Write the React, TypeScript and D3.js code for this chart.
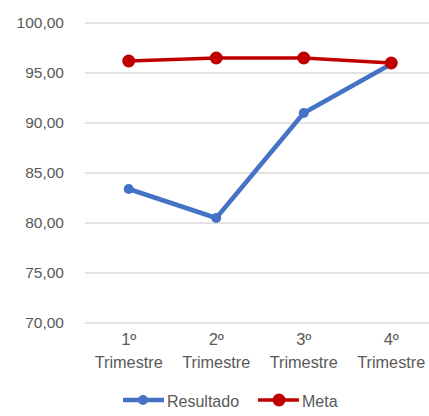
import React from "react";
import * as d3 from "d3";

// chart data
const categories = ["1º Trimestre", "2º Trimestre", "3º Trimestre", "4º Trimestre"];
const resultado = [83.4, 80.5, 91.0, 95.9];
const meta = [96.2, 96.5, 96.5, 96.0];
const yTicks = [70, 75, 80, 85, 90, 95, 100];

const W = 429;
const H = 416;
const FONT = "'Liberation Sans', Arial, sans-serif";

function App() {
  // plot area (right edge runs past the window like in the original)
  const left = 85;
  const right = 435;
  const top = 23;
  const bottom = 323;

  const x = d3.scaleBand<string>().domain(categories).range([left, right]);
  const cx = (c: string) => (x(c) as number) + x.bandwidth() / 2;
  const y = d3.scaleLinear().domain([70, 100]).range([bottom, top]);
  const fmt = (v: number) => v.toFixed(2).replace(".", ",");

  const line = d3
    .line<number>()
    .x((_, i) => cx(categories[i]))
    .y(d => y(d));

  const series = [
    { name: "Resultado", values: resultado, color: "#4472C4", width: 4.5, r: 5 },
    { name: "Meta", values: meta, color: "#C00000", width: 3.5, r: 6.5 }
  ];

  const legY = 400;

  return (
    <div style={{ position: "fixed", left: 0, top: 0, width: W, height: H, overflow: "hidden" }}>
      <svg width={W} height={H} style={{ display: "block" }} fontFamily={FONT}>
        <rect width={W} height={H} fill="#fff" />
        {/* gridlines + y labels */}
        {yTicks.map(t => (
          <g key={t}>
            <line x1={left} x2={W} y1={y(t)} y2={y(t)} stroke="#D9D9D9" strokeWidth={1.3} />
            <text x={64} y={y(t)} dy="0.35em" textAnchor="end" fontSize={15.5} fill="#595959">
              {fmt(t)}
            </text>
          </g>
        ))}
        {/* x labels */}
        {categories.map(c => {
          const [a, b] = c.split(" ");
          return (
            <text key={c} x={cx(c)} textAnchor="middle" fontSize={16.5} fill="#595959">
              <tspan x={cx(c)} y={345}>{a}</tspan>
              <tspan x={cx(c)} y={368} textLength={68} lengthAdjust="spacingAndGlyphs">{b}</tspan>
            </text>
          );
        })}
        {/* series */}
        {series.map(s => (
          <g key={s.name}>
            <path d={line(s.values) || ""} fill="none" stroke={s.color} strokeWidth={s.width} strokeLinejoin="round" />
            {s.values.map((v, i) => (
              <circle key={i} cx={cx(categories[i])} cy={y(v)} r={s.r} fill={s.color} />
            ))}
          </g>
        ))}
        {/* legend */}
        <g>
          <line x1={123} x2={164} y1={legY} y2={legY} stroke="#4472C4" strokeWidth={4.5} />
          <circle cx={143} cy={legY} r={5} fill="#4472C4" />
          <text x={167} y={legY + 1} dy="0.35em" fontSize={16} fill="#595959">Resultado</text>
          <line x1={258} x2={299} y1={legY} y2={legY} stroke="#C00000" strokeWidth={3.5} />
          <circle cx={279} cy={legY} r={6.5} fill="#C00000" />
          <text x={302} y={legY + 1} dy="0.35em" fontSize={16} fill="#595959">Meta</text>
        </g>
      </svg>
    </div>
  );
}

export default App;
